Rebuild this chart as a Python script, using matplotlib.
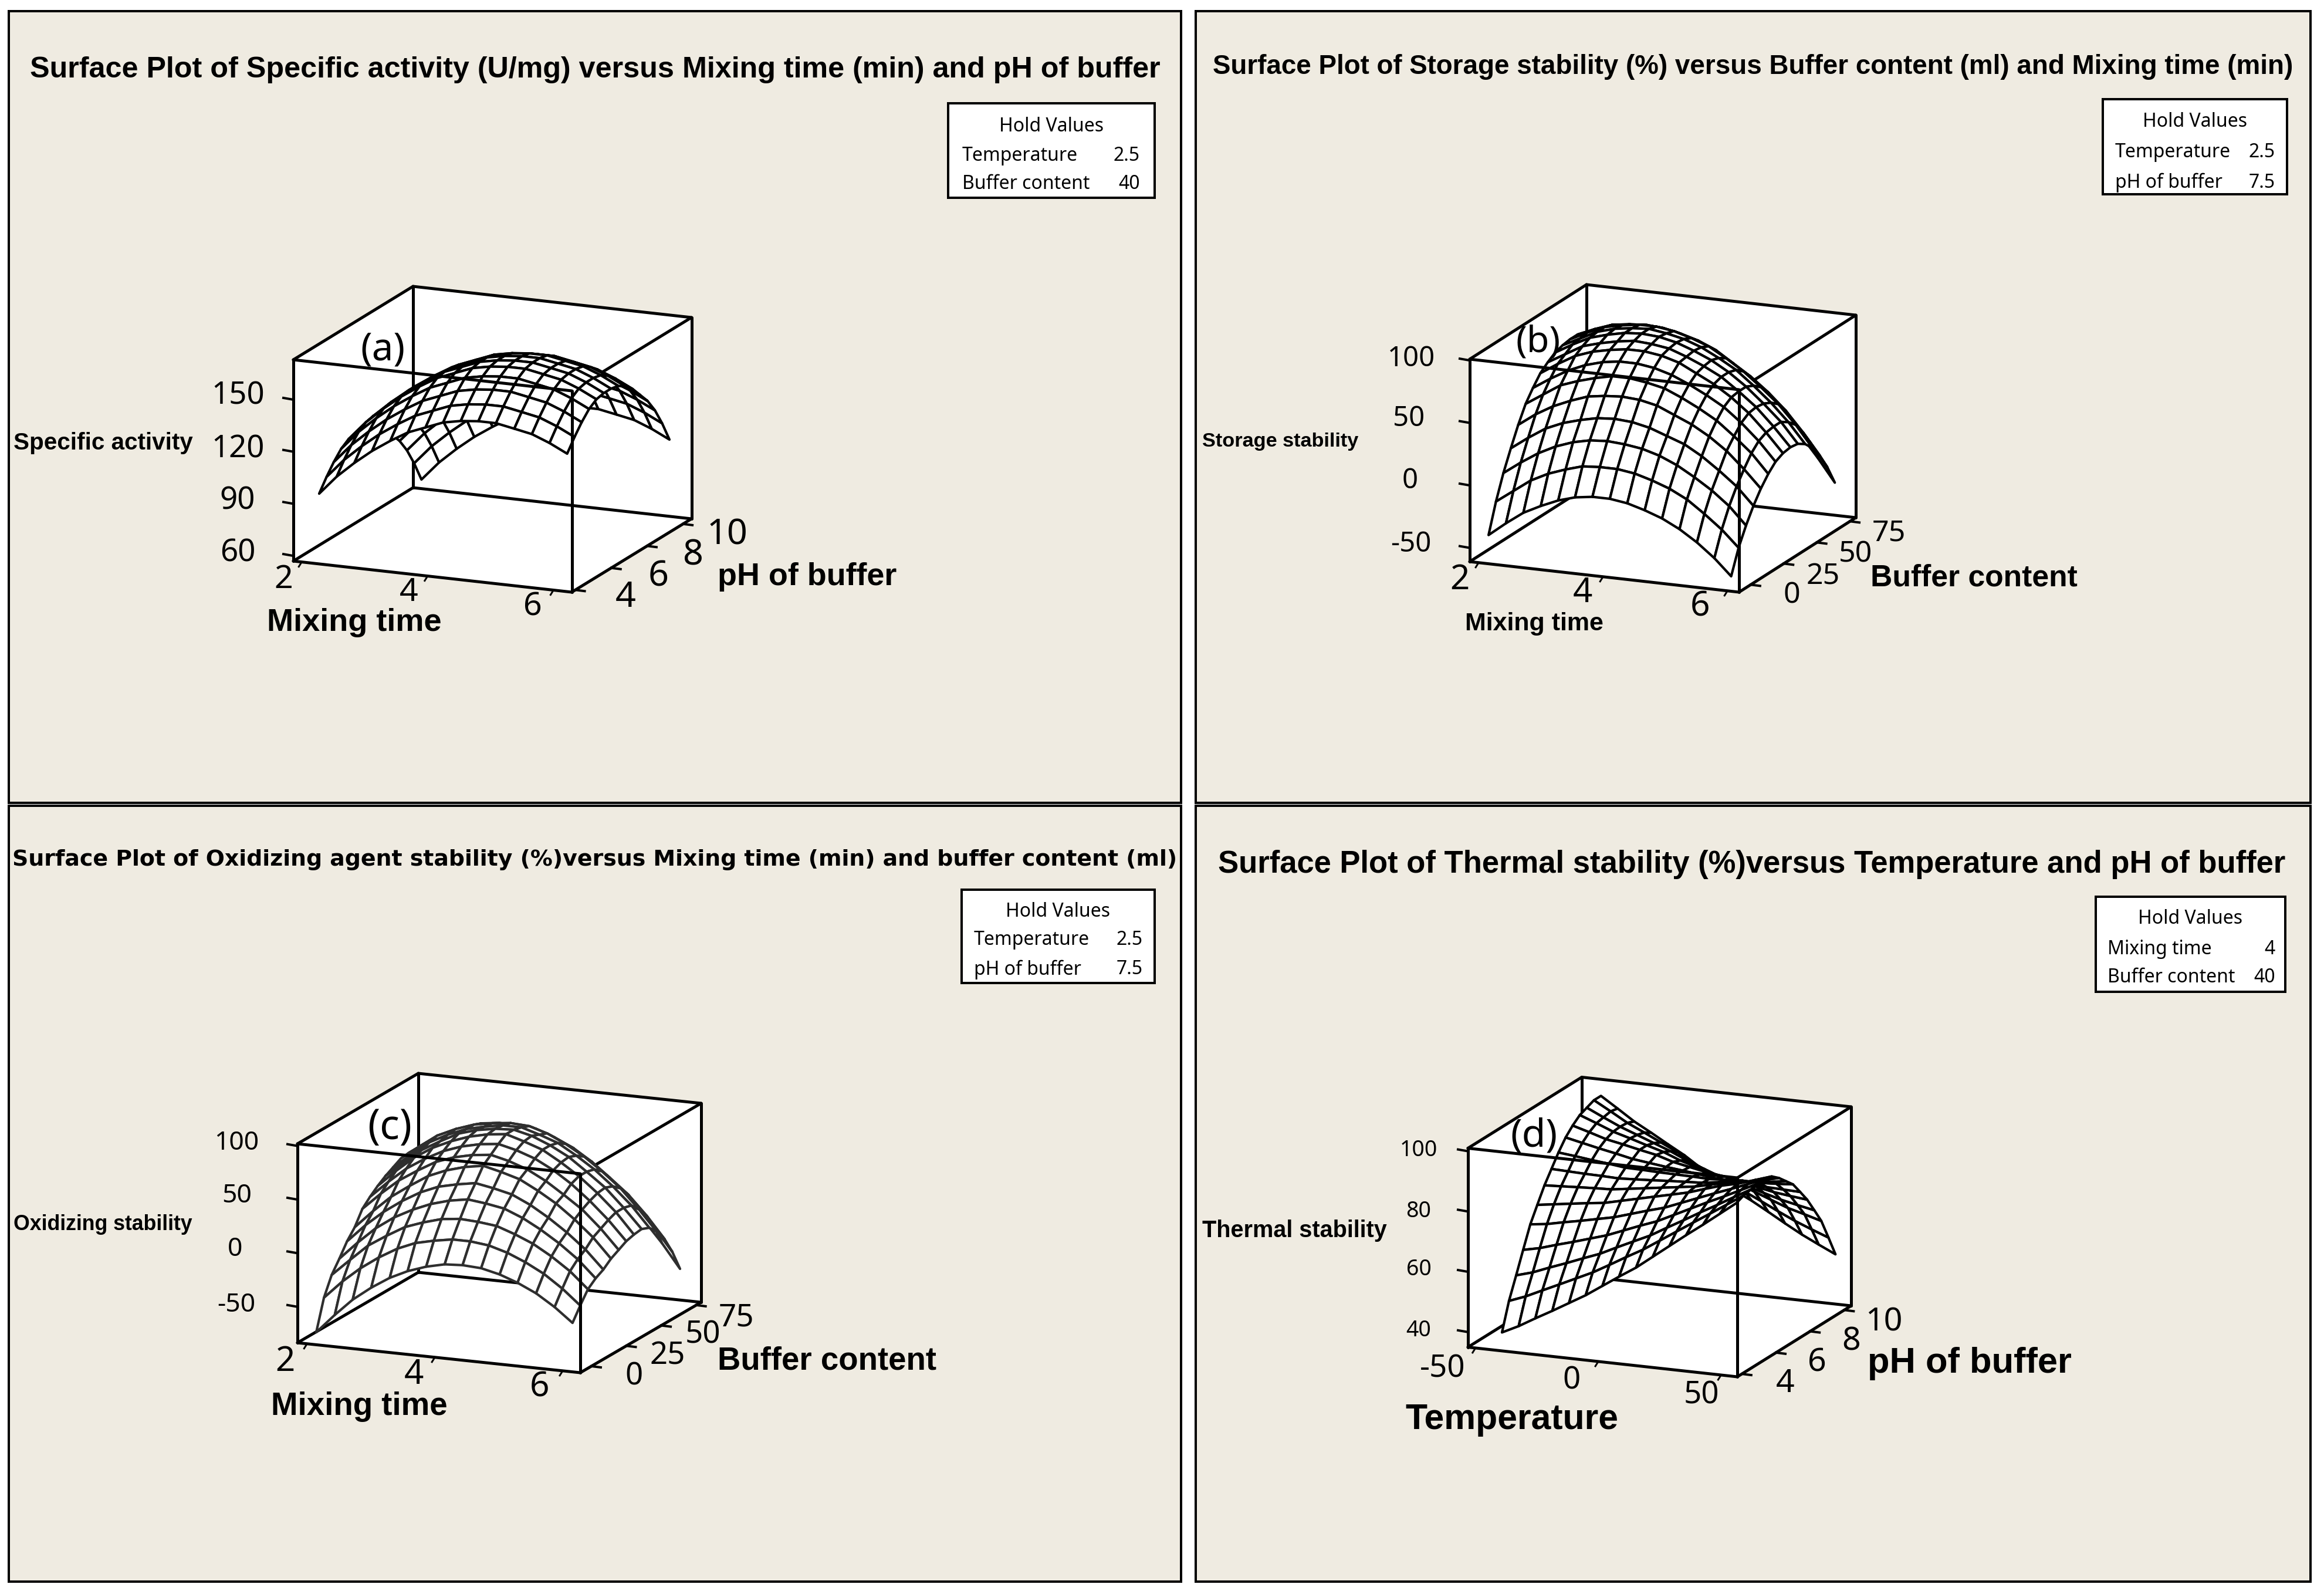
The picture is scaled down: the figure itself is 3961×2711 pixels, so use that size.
import matplotlib
matplotlib.use("Agg")
import matplotlib.pyplot as plt
import numpy as np
from matplotlib.collections import PolyCollection
from matplotlib.patches import Rectangle

# Data
x_a = [2.22, 2.50, 2.78, 3.06, 3.35, 3.63, 3.91, 4.19, 4.47, 4.75, 5.03, 5.32, 5.60, 5.88, 6.16]
y_a = [4.00, 4.41, 4.81, 5.22, 5.63, 6.04, 6.44, 6.85, 7.26, 7.66, 8.07, 8.48, 8.89, 9.29, 9.70]
z_a = [
    [96, 107, 116, 124, 131, 137, 141, 145, 147, 148, 148, 146, 144, 140, 135],
    [103, 114, 123, 131, 138, 144, 148, 152, 154, 155, 155, 153, 151, 147, 142],
    [109, 120, 129, 137, 144, 150, 154, 158, 160, 161, 161, 159, 157, 153, 148],
    [114, 125, 134, 142, 149, 155, 159, 163, 165, 166, 166, 164, 162, 158, 153],
    [117, 128, 137, 145, 152, 158, 162, 166, 168, 169, 169, 167, 165, 161, 156],
    [118, 129, 138, 146, 153, 159, 163, 167, 169, 170, 170, 168, 166, 162, 157],
    [118, 129, 138, 146, 153, 159, 163, 167, 169, 170, 170, 168, 166, 162, 157],
    [117, 128, 137, 145, 152, 158, 162, 166, 168, 169, 169, 167, 165, 161, 156],
    [114, 125, 134, 142, 149, 155, 159, 163, 165, 166, 166, 164, 162, 158, 153],
    [110, 121, 130, 138, 145, 151, 155, 159, 161, 162, 162, 160, 158, 154, 149],
    [104, 115, 124, 132, 139, 145, 149, 153, 155, 156, 156, 154, 152, 148, 143],
    [98, 109, 118, 126, 133, 139, 143, 147, 149, 150, 150, 148, 146, 142, 137],
    [90, 101, 110, 118, 125, 131, 135, 139, 141, 142, 142, 140, 138, 134, 129],
    [80, 91, 100, 108, 115, 121, 125, 129, 131, 132, 132, 130, 128, 124, 119],
    [68, 79, 88, 96, 103, 109, 113, 117, 119, 120, 120, 118, 116, 112, 107],
]

x_b = [2.00, 2.28, 2.56, 2.84, 3.12, 3.39, 3.67, 3.95, 4.23, 4.51, 4.79, 5.07, 5.35, 5.63, 5.90]
y_b = [-1.3, 4.3, 9.9, 15.5, 21.1, 26.7, 32.2, 37.8, 43.4, 49.0, 54.6, 60.2, 65.8, 71.4, 77.0]
z_b = [
    [-44, -33, -23, -16, -10, -6, -4, -4, -6, -10, -15, -22, -31, -42, -55],
    [-21, -11, -1, 6, 11, 15, 16, 16, 14, 10, 5, -2, -12, -23, -36],
    [-2, 8, 17, 24, 29, 32, 33, 32, 30, 26, 20, 12, 3, -8, -22],
    [14, 24, 33, 39, 43, 46, 47, 46, 43, 38, 33, 25, 15, 4, -10],
    [29, 39, 47, 53, 58, 60, 61, 60, 57, 51, 45, 37, 27, 14, 0],
    [42, 51, 60, 65, 69, 72, 72, 70, 67, 61, 54, 46, 35, 23, 8],
    [51, 60, 68, 74, 78, 80, 80, 78, 74, 68, 61, 53, 42, 29, 14],
    [59, 68, 76, 81, 84, 86, 86, 84, 80, 73, 66, 57, 46, 32, 17],
    [64, 72, 80, 84, 87, 89, 88, 86, 81, 75, 68, 58, 47, 33, 18],
    [68, 76, 83, 87, 90, 91, 90, 87, 82, 76, 68, 58, 46, 33, 17],
    [70, 77, 84, 88, 90, 91, 89, 86, 81, 74, 66, 55, 43, 29, 13],
    [71, 78, 84, 87, 89, 89, 87, 83, 78, 70, 61, 50, 38, 23, 6],
    [71, 77, 82, 84, 85, 84, 81, 77, 71, 62, 53, 42, 29, 13, -4],
    [69, 74, 78, 79, 78, 76, 72, 67, 61, 52, 42, 30, 17, 1, -17],
    [66, 70, 72, 72, 71, 67, 62, 56, 49, 39, 29, 16, 2, -15, -33],
]

x_c = [1.97, 2.26, 2.54, 2.83, 3.12, 3.40, 3.69, 3.98, 4.26, 4.55, 4.84, 5.12, 5.41, 5.70, 5.98]
y_c = [0, 5.5, 11.0, 16.5, 22.0, 27.5, 33.0, 38.4, 43.9, 49.4, 54.9, 60.4, 65.9, 71.4, 76.9]
z_c = [
    [-79, -61, -45, -32, -21, -13, -7, -3, -2, -3, -7, -13, -21, -32, -45],
    [-51, -34, -20, -8, 2, 9, 13, 16, 16, 14, 9, 2, -7, -19, -33],
    [-34, -18, -3, 8, 18, 24, 29, 31, 30, 28, 22, 15, 5, -7, -22],
    [-23, -6, 9, 21, 30, 37, 42, 45, 43, 40, 33, 24, 13, 0, -16],
    [-11, 6, 20, 32, 42, 49, 53, 56, 53, 49, 41, 31, 19, 5, -12],
    [-2, 15, 30, 42, 53, 60, 65, 68, 64, 59, 50, 40, 27, 12, -6],
    [11, 27, 41, 52, 62, 68, 72, 74, 70, 64, 55, 44, 32, 16, -2],
    [18, 34, 48, 59, 68, 74, 78, 80, 76, 70, 61, 50, 36, 20, 2],
    [24, 40, 54, 65, 73, 79, 83, 85, 80, 74, 64, 53, 39, 23, 4],
    [29, 44, 57, 67, 76, 81, 84, 85, 81, 74, 65, 53, 40, 23, 5],
    [33, 47, 60, 69, 76, 80, 83, 83, 78, 72, 62, 51, 37, 21, 2],
    [37, 50, 62, 70, 76, 79, 81, 80, 75, 67, 57, 45, 31, 13, -6],
    [38, 50, 60, 67, 73, 75, 75, 73, 67, 59, 48, 35, 21, 3, -17],
    [35, 46, 55, 61, 66, 67, 66, 63, 56, 48, 36, 22, 6, -12, -33],
    [29, 39, 48, 53, 57, 57, 56, 52, 44, 34, 21, 6, -11, -31, -53],
]

x_d = [-41.1, -34.3, -27.5, -20.6, -13.8, -7.0, -0.2, 6.6, 13.5, 20.3, 27.1, 33.9, 40.8, 47.6, 54.4]
y_d = [4.00, 4.41, 4.83, 5.24, 5.66, 6.07, 6.49, 6.90, 7.31, 7.73, 8.14, 8.56, 8.97, 9.39, 9.80]
z_d = [
    [40, 42.7, 45.9, 49, 52.2, 55.4, 59.1, 62.8, 66.4, 70.6, 74.8, 79, 83.1, 87.3, 91.5],
    [49, 51.1, 53.7, 56.3, 58.9, 61.5, 64.6, 67.8, 70.9, 74.5, 78.1, 81.7, 85.3, 88.9, 92.5],
    [56, 57.6, 59.8, 61.9, 64.1, 66.2, 68.9, 71.5, 74.1, 77.3, 80.4, 83.6, 86.7, 89.9, 93],
    [63, 64.2, 65.9, 67.5, 69.2, 70.9, 73.1, 75.3, 77.4, 80.1, 82.8, 85.5, 88.1, 90.8, 93.5],
    [70, 70.7, 71.9, 73, 74.2, 75.4, 77.1, 78.8, 80.4, 82.6, 84.8, 87, 89.1, 91.3, 93.5],
    [75, 75.8, 76.6, 77.4, 78.1, 79.4, 80.7, 82, 83.3, 84.6, 86.4, 88.1, 89.4, 91.2, 93],
    [80, 80.3, 80.6, 80.9, 81.1, 81.9, 82.7, 83.5, 84.3, 85.1, 86.4, 87.6, 88.4, 89.7, 91],
    [84, 83.8, 83.6, 83.5, 83.3, 83.6, 83.9, 84.3, 84.6, 84.9, 85.7, 86.5, 86.9, 87.7, 88.5],
    [88, 87.4, 86.7, 86.1, 85.4, 85.3, 85.1, 85, 84.9, 84.7, 85.1, 85.4, 85.3, 85.6, 86],
    [91.5, 90.3, 89.1, 88, 86.8, 86.1, 85.4, 84.8, 84.1, 83.4, 83.2, 83, 82.4, 82.2, 82],
    [94, 92.4, 90.7, 89.6, 88.4, 87.3, 85.6, 84.5, 83.4, 82.7, 81.6, 80.4, 79.3, 78.6, 78],
    [96, 93.9, 91.7, 90.1, 88.4, 86.8, 84.6, 83, 81.4, 80.2, 78.6, 76.9, 75.3, 74.1, 73],
    [97, 94.4, 91.9, 89.8, 87.7, 85.6, 83.1, 81, 78.9, 77.4, 75.3, 73.2, 71.1, 69.6, 68],
    [98, 94.9, 91.7, 89.1, 86.4, 83.8, 80.6, 78, 75.4, 73.2, 70.6, 67.9, 65.3, 63.1, 61],
    [98, 94.4, 90.7, 87.6, 84.4, 81.3, 77.6, 74.5, 71.4, 68.7, 65.6, 62.4, 59.3, 56.6, 54],
]

titles = [
    "Surface Plot of Specific activity (U/mg) versus Mixing time (min) and pH of buffer",
    "Surface Plot of Storage stability (%) versus Buffer content (ml) and Mixing time (min)",
    "Surface Plot of Oxidizing agent stability (%)versus Mixing time (min) and buffer content (ml)",
    "Surface Plot of Thermal stability (%)versus Temperature and pH of buffer",
]
hold_values = [
    [("Temperature", "2.5"), ("Buffer content", "40")],
    [("Temperature", "2.5"), ("pH of buffer", "7.5")],
    [("Temperature", "2.5"), ("pH of buffer", "7.5")],
    [("Mixing time", "4"), ("Buffer content", "40")],
]
xticks_a = [2, 4, 6]
yticks_a = [4, 6, 8, 10]
zticks_a = [60, 90, 120, 150]
yticks_b = [0, 25, 50, 75]
zticks_b = [-50, 0, 50, 100]
xticks_d = [-50, 0, 50]
zticks_d = [40, 60, 80, 100]

# Layout, in pixels of the final image
W, H = 3961, 2711
BG = "#efebe1"
PT = 0.72  # one pixel at dpi 100
DY = 5  # text sits a little low in the reference

panels = [
    dict(frame=(15, 19, 2013, 1368), o=(500, 956), vx=(474.5, 53), vy=(204, -125), h=343,
         xlim=(1.867, 6.29), ylim=(3.8, 10.47), zlim=(57, 173),
         x=x_a, y=y_a, z=z_a, xt=xticks_a, yt=yticks_a, zt=zticks_a, color="black",
         title=(50, 1978, 114), hold=(1616, 176, 1968, 337, 1640, 1943, 210, 260, 308),
         xtl=[(483, 983), (697, 1005), (908, 1029)],
         ytl=[(1066, 1014), (1122, 978), (1181, 942), (1240, 907)],
         ztl=[(405, 938), (405, 849), (406, 761), (406, 670)], fs=(40, 44, 38),
         xlab=("Mixing time", 455, 753, 1056), ylab=("pH of buffer", 1223, 1528, 978),
         zlab=("Specific activity", 23, 328, 750), tag=("(a)", 652, 591, 76)),
    dict(frame=(2038, 19, 3938, 1368), o=(2505, 957), vx=(459, 52), vy=(199, -127), h=345,
         xlim=(1.857, 6.186), ylim=(-8.8, 79.4), zlim=(-61, 101),
         x=x_b, y=y_b, z=z_b, xt=xticks_a, yt=yticks_b, zt=zticks_b, color="black",
         title=(2066, 3910, 109), hold=(3584, 169, 3898, 331, 3605, 3878, 202, 255, 306),
         xtl=[(2488, 983), (2697, 1005), (2898, 1029)],
         ytl=[(3054, 1009), (3107, 978), (3163, 940), (3219, 904)],
         ztl=[(2405, 922), (2403, 815), (2401, 708), (2405, 606)], fs=(42, 36, 34),
         xlab=("Mixing time", 2496, 2733, 1058), ylab=("Buffer content", 3188, 3541, 980),
         zlab=("Storage stability", 2049, 2316, 748), tag=("(b)", 2622, 578, 76)),
    dict(frame=(15, 1373, 2013, 2695), o=(507, 2288), vx=(482, 51), vy=(206, -120), h=339,
         xlim=(1.85, 6.275), ylim=(-7.95, 78.5), zlim=(-83.5, 102),
         x=x_c, y=y_c, z=z_c, xt=xticks_a, yt=yticks_b, zt=zticks_b, color="#2e2e2e",
         title=(20, 2008, 1460), hold=(1639, 1516, 1968, 1675, 1660, 1948, 1548, 1596, 1647),
         xtl=[(486, 2315), (705, 2337), (919, 2359)],
         ytl=[(1081, 2341), (1138, 2306), (1198, 2270), (1255, 2241)],
         ztl=[(403, 2219), (401, 2124), (404, 2033), (403, 1943)], fs=(42, 38, 32),
         xlab=("Mixing time", 462, 763, 2392), ylab=("Buffer content", 1223, 1596, 2314),
         zlab=("Oxidizing stability", 23, 328, 2081), tag=("(c)", 664, 1917, 76)),
    dict(frame=(2038, 1373, 3938, 2695), o=(2502, 2295.5), vx=(459, 50.5), vy=(194, -121), h=339,
         xlim=(-53.07, 56.6), ylim=(3.73, 10.4), zlim=(35, 101),
         x=x_d, y=y_d, z=z_d, xt=xticks_d, yt=yticks_a, zt=zticks_d, color="black",
         title=(2074, 3898, 1468), hold=(3572, 1528, 3895, 1690, 3592, 3878, 1561, 1612, 1660),
         xtl=[(2459, 2328), (2679, 2348), (2900, 2373)],
         ytl=[(3043, 2353), (3097, 2317), (3155, 2281), (3211, 2248)],
         ztl=[(2418, 2262), (2418, 2158), (2418, 2059), (2418, 1955)], fs=(38, 40, 27),
         xlab=("Temperature", 2395, 2758, 2415), ylab=("pH of buffer", 3183, 3531, 2319),
         zlab=("Thermal stability", 2049, 2364, 2092), tag=("(d)", 2614, 1932, 80)),
]

fig = plt.figure(figsize=(W / 100, H / 100), dpi=100, facecolor="white")
ax = fig.add_axes([0, 0, 1, 1])
ax.set_xlim(0, W)
ax.set_ylim(H, 0)
ax.axis("off")
plt.rcParams["font.family"] = ["Noto Sans", "DejaVu Sans"]


def fit_text(left, right, yc, s, family="Noto Sans", weight="normal"):
    # stretch the font size until the string spans left..right
    t = ax.text((left + right) / 2, yc + DY, s, ha="center", va="center", fontsize=30,
                family=family, fontweight=weight, zorder=20)
    w = t.get_window_extent(fig.canvas.get_renderer()).width
    t.set_fontsize(30 * (right - left) / w)
    return t


def draw_panel(p, title_font):
    x0, y0, x1, y1 = p["frame"]
    ax.add_patch(Rectangle((x0, y0), x1 - x0, y1 - y0, fc=BG, ec="black", lw=4 * PT, zorder=0))

    o, vx, vy, h = np.array(p["o"]), np.array(p["vx"]), np.array(p["vy"]), p["h"]

    def project(x, y, z):
        fx = (np.asarray(x, float) - p["xlim"][0]) / (p["xlim"][1] - p["xlim"][0])
        fy = (np.asarray(y, float) - p["ylim"][0]) / (p["ylim"][1] - p["ylim"][0])
        fz = (np.asarray(z, float) - p["zlim"][0]) / (p["zlim"][1] - p["zlim"][0])
        return o[0] + fx * vx[0] + fy * vy[0], o[1] + fx * vx[1] + fy * vy[1] - fz * h

    xl, xh = p["xlim"]
    yl, yh = p["ylim"]
    zl, zh = p["zlim"]

    def edge(a, b, z):
        pa, pb = project(*a), project(*b)
        ax.plot([pa[0], pb[0]], [pa[1], pb[1]], color="black", lw=5 * PT,
                solid_capstyle="round", zorder=z)

    hull = [project(xl, yl, zl), project(xh, yl, zl), project(xh, yh, zl),
            project(xh, yh, zh), project(xl, yh, zh), project(xl, yl, zh)]
    ax.fill([c[0] for c in hull], [c[1] for c in hull], color="white", zorder=1)

    # back edges go under the surface
    edge((xl, yh, zl), (xh, yh, zl), 2)
    edge((xl, yh, zl), (xl, yl, zl), 2)
    edge((xl, yh, zl), (xl, yh, zh), 2)
    edge((xl, yh, zh), (xh, yh, zh), 2)
    edge((xl, yh, zh), (xl, yl, zh), 2)
    edge((xh, yh, zh), (xh, yl, zh), 2)

    # surface cells, far corner first so nearer cells cover them
    gx, gy = np.meshgrid(p["x"], p["y"])
    sx, sy = project(gx, gy, np.array(p["z"]))
    cells = []
    for j in range(sx.shape[0] - 2, -1, -1):
        for i in range(sx.shape[1] - 1):
            cells.append([(sx[j, i], sy[j, i]), (sx[j, i + 1], sy[j, i + 1]),
                          (sx[j + 1, i + 1], sy[j + 1, i + 1]), (sx[j + 1, i], sy[j + 1, i])])
    ax.add_collection(PolyCollection(cells, facecolors="white", edgecolors=p["color"],
                                     linewidths=4.2 * PT, zorder=3))

    # front edges go over it
    edge((xl, yl, zh), (xh, yl, zh), 4)
    edge((xl, yl, zh), (xl, yl, zl), 4)
    edge((xh, yl, zh), (xh, yl, zl), 4)
    edge((xl, yl, zl), (xh, yl, zl), 4)
    edge((xh, yl, zl), (xh, yh, zl), 4)
    edge((xh, yh, zl), (xh, yh, zh), 4)

    # tick marks and their labels
    for v in p["zt"]:
        tx, ty = project(xl, yl, v)
        ax.plot([tx - 17, tx], [ty - 3, ty], color="black", lw=4 * PT, zorder=5)
    for v in p["xt"]:
        tx, ty = project(v, yl, zl)
        ax.plot([tx, tx - 5], [ty, ty + 8], color="black", lw=3 * PT, zorder=5)
    for v in p["yt"]:
        tx, ty = project(xh, v, zl)
        ax.plot([tx, tx + 16], [ty, ty + 2], color="black", lw=4 * PT, zorder=5)

    for v, (lx, ly) in zip(p["xt"], p["xtl"]):
        ax.text(lx, ly + DY, str(v), ha="center", va="center", fontsize=p["fs"][0], zorder=20)
    for v, (lx, ly) in zip(p["yt"], p["ytl"]):
        ax.text(lx, ly + DY, str(v), ha="center", va="center", fontsize=p["fs"][1], zorder=20)
    for v, (lx, ly) in zip(p["zt"], p["ztl"]):
        ax.text(lx, ly + DY, str(v), ha="center", va="center", fontsize=p["fs"][2], zorder=20)

    # axis names, panel tag
    for key in ("xlab", "ylab", "zlab"):
        s, left, right, yc = p[key]
        fit_text(left, right, yc, s, family="Liberation Sans", weight="bold")
    s, tx, ty, tw = p["tag"]
    fit_text(tx - tw / 2, tx + tw / 2, ty, s)

    # title
    left, right, yc = p["title"]
    fit_text(left, right, yc, titles[panels.index(p)], family=title_font, weight="bold")

    # hold values box
    bx0, by0, bx1, by1, tl, tr, y1st, y2nd, y3rd = p["hold"]
    ax.add_patch(Rectangle((bx0, by0), bx1 - bx0, by1 - by0, fc="white", ec="black",
                           lw=4 * PT, zorder=6))
    ax.text((bx0 + bx1) / 2, y1st + DY, "Hold Values", ha="center", va="center", fontsize=23, zorder=20)
    for (name, val), yy in zip(hold_values[panels.index(p)], (y2nd, y3rd)):
        ax.text(tl, yy + DY, name, ha="left", va="center", fontsize=23, zorder=20)
        ax.text(tr, yy + DY, val, ha="right", va="center", fontsize=23, zorder=20)


for p, font in zip(panels, ("Liberation Sans", "Liberation Sans", "DejaVu Sans", "Liberation Sans")):
    draw_panel(p, font)

fig.savefig("out.png", dpi=100, facecolor="white")
